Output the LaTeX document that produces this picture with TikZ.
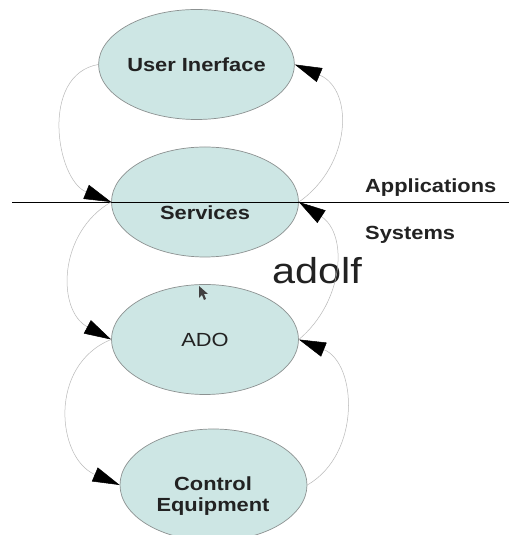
\documentclass[tikz,border=0pt]{standalone}
\usepackage{fontspec}
\setmainfont{Liberation Sans}[FakeStretch=1.15]
\usetikzlibrary{shapes.geometric,arrows.meta}
\definecolor{blobfill}{RGB}{205,230,228}
\definecolor{blobline}{RGB}{140,145,145}
\definecolor{inktext}{RGB}{34,34,34}
\tikzset{
  blob/.style={ellipse,draw=blobline,fill=blobfill,line width=0.7pt,inner sep=0pt,
    minimum width=187pt,minimum height=110pt,text=inktext},
  boldlbl/.style={font=\fontsize{19}{21}\selectfont\bfseries,text=inktext,inner sep=0pt,align=center},
  plainlbl/.style={font=\fontsize{19}{21}\selectfont,text=inktext,inner sep=0pt},
  flow/.style={draw=gray!55,line width=0.5pt,-{Triangle[length=27pt,width=15pt,color=black]}},
}

\begin{document}
\begin{tikzpicture}[x=1pt,y=1pt]
    \useasboundingbox[fill=white] (0,0) rectangle (509,535);
    \node[blob,boldlbl] (ui) at (196.5,470.5) {User Inerface};
    \node[blob] (sv) at (205,333) {};
    \node[blob,plainlbl] (ado) at (205,195.5) {ADO};
    \node[blob,minimum height=112pt] (ce) at (213.5,50) {};
    \node[boldlbl] (svl) at (205,322) {Services};
    \node[boldlbl] (cel) at (213,39) {Control\\Equipment};
    % layer split
    \coordinate (cutl) at (12,333);
    \coordinate (cutr) at (509,333);
    \draw[black,line width=0.8pt] (cutl) -- (cutr);
    \node[boldlbl,anchor=west] (apps) at (365,347) {Applications};
    \node[boldlbl,anchor=west] (sys) at (365,300) {Systems};
    \node[font=\fontsize{36}{38}\selectfont,text=inktext,inner sep=0pt] (adolf) at (317,264) {adolf};
    % down the left side
    \draw[flow] (ui.west) to[out=190,in=158,looseness=1.1] (sv.west);
    \draw[flow] (sv.west) to[out=210,in=152,looseness=1.15] (ado.west);
    \draw[flow] (ado.west) to[out=202,in=157,looseness=1.2] (ce.west);
    % up the right side
    \draw[flow] (ce.east) to[out=30,in=-22,looseness=1.1] (ado.east);
    \draw[flow] (ado.east) to[out=40,in=-33,looseness=1.1] (sv.east);
    \draw[flow] (sv.east) to[out=35,in=-23,looseness=1.2] (ui.east);
    % pointer
    \fill[black!75] (199,249) -- (199,237) -- (202,240) -- (204,235) -- (206,236) -- (204,241) -- (208,241) -- cycle;
\end{tikzpicture}
\end{document}
